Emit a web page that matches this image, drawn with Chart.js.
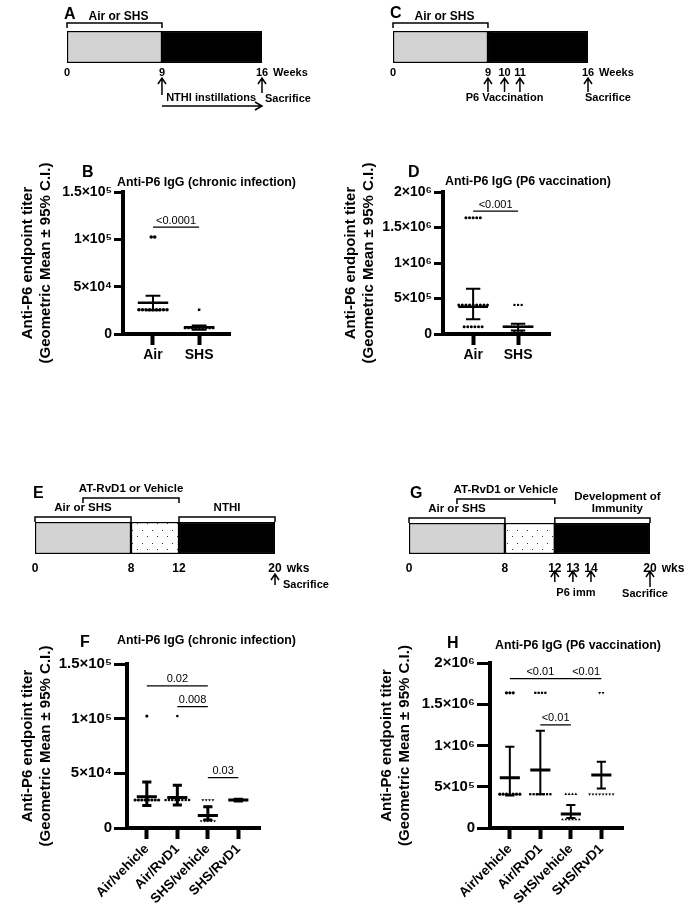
<!DOCTYPE html>
<html>
<head>
<meta charset="utf-8">
<script src="https://cdn.jsdelivr.net/npm/chart.js@4.4.0/dist/chart.umd.min.js"></script>
<style>
  body { margin: 0; background: #fff; }
  #page { position: relative; width: 689px; height: 907px; overflow: hidden; font-family: "Liberation Sans", Arial, sans-serif; }
  canvas { position: absolute; }
  .lbl { position: absolute; font-weight: bold; white-space: nowrap; line-height: 1; color: #000; }
  .letter { font-size: 16px; }
  .ttl { font-size: 12.4px; }
</style>
</head>
<body>
<div id="page">
  <canvas id="tA" width="345" height="140" style="left:0;top:0"></canvas>
  <canvas id="tC" width="344" height="140" style="left:345px;top:0"></canvas>
  <canvas id="cB" width="294" height="230" style="left:0;top:140px"></canvas>
  <canvas id="cD" width="274" height="230" style="left:340px;top:140px"></canvas>
  <canvas id="tE" width="345" height="150" style="left:0;top:450px"></canvas>
  <canvas id="tG" width="344" height="150" style="left:345px;top:450px"></canvas>
  <canvas id="cF" width="300" height="307" style="left:0;top:600px"></canvas>
  <canvas id="cH" width="300" height="307" style="left:370px;top:600px"></canvas>

  <div class="lbl letter" style="left:64px;top:6px">A</div>
  <div class="lbl letter" style="left:390px;top:5px">C</div>
  <div class="lbl letter" style="left:82px;top:164px">B</div>
  <div class="lbl letter" style="left:408px;top:164px">D</div>
  <div class="lbl letter" style="left:33px;top:485px">E</div>
  <div class="lbl letter" style="left:410px;top:485px">G</div>
  <div class="lbl letter" style="left:80px;top:634px">F</div>
  <div class="lbl letter" style="left:447px;top:635px">H</div>

  <div class="lbl ttl" style="left:117px;top:176px">Anti-P6 IgG (chronic infection)</div>
  <div class="lbl ttl" style="left:445px;top:175px">Anti-P6 IgG (P6 vaccination)</div>
  <div class="lbl ttl" style="left:117px;top:634px">Anti-P6 IgG (chronic infection)</div>
  <div class="lbl ttl" style="left:495px;top:639px">Anti-P6 IgG (P6 vaccination)</div>
</div>
<script>
const FONT = '"Liberation Sans", Arial, Helvetica, sans-serif';
Chart.defaults.font.family = FONT;
Chart.defaults.color = '#000';

// ---- timelines (weeks) ----
const weeksA = [0, 9, 16];
const phasesA = [[0, 9], [9, 16]];
const weeksC = [0, 9, 10, 11, 16];
const phasesC = [[0, 9], [9, 16]];
const weeksE = [0, 8, 12, 20];
const phasesE = [[0, 8], [8, 12], [12, 20]];
const weeksG = [0, 8, 12, 13, 14, 20];
const phasesG = [[0, 8], [8, 12], [12, 20]];

// ---- B: chronic infection, Air vs SHS ----
const groupsB = ['Air', 'SHS'];
const airB = [102400, 102400, 25600, 25600, 25600, 25600, 25600, 25600, 25600, 25600, 25600];
const shsB = [25600, 6400, 6400, 6400, 6400, 6400, 6400, 6400, 6400, 6400];
const meanB = [33000, 7000];
const ciLowB = [25000, 4500];
const ciHighB = [40500, 9000];
const yTicksB = [0, 50000, 100000, 150000];
const yLabelsB = ['0', '5×10⁴', '1×10⁵', '1.5×10⁵'];
const sigB = [[0, 1, '<0.0001']];

// ---- D: P6 vaccination, Air vs SHS ----
const groupsD = ['Air', 'SHS'];
const airD = [1638400, 1638400, 1638400, 1638400, 1638400,
  409600, 409600, 409600, 409600, 409600, 409600, 409600, 409600, 409600,
  102400, 102400, 102400, 102400, 102400, 102400];
const shsD = [409600, 409600, 409600,
  102400, 102400, 102400, 102400, 102400, 102400, 102400, 102400, 102400,
  25600, 25600, 25600];
const meanD = [384000, 102000];
const ciLowD = [207000, 48000];
const ciHighD = [638000, 145000];
const yTicksD = [0, 500000, 1000000, 1500000, 2000000];
const yLabelsD = ['0', '5×10⁵', '1×10⁶', '1.5×10⁶', '2×10⁶'];
const sigD = [[0, 1, '<0.001']];

// ---- F / H: four treatment groups ----
const groupsFH = ['Air/vehicle', 'Air/RvD1', 'SHS/vehicle', 'SHS/RvD1'];

const airVehF = [102400, 25600, 25600, 25600, 25600, 25600, 25600, 25600, 25600];
const airRvF = [102400, 25600, 25600, 25600, 25600, 25600, 25600, 25600, 25600];
const shsVehF = [25600, 25600, 25600, 25600, 6400, 6400, 6400, 6400, 6400];
const shsRvF = [25600, 25600, 25600, 25600, 25600, 25600];
const meanF = [28600, 28000, 11500, 25600];
const ciLowF = [20500, 21000, 7300, 24800];
const ciHighF = [42000, 39000, 19500, 26400];
const yTicksF = [0, 50000, 100000, 150000];
const yLabelsF = ['0', '5×10⁴', '1×10⁵', '1.5×10⁵'];
const sigF = [[0, 2, '0.02'], [1, 2, '0.008'], [2, 3, '0.03']];

const airVehH = [1638400, 1638400, 1638400, 409600, 409600, 409600, 409600, 409600, 409600, 409600];
const airRvH = [1638400, 1638400, 1638400, 1638400, 409600, 409600, 409600, 409600, 409600, 409600, 409600];
const shsVehH = [409600, 409600, 409600, 409600, 102400, 102400, 102400, 102400, 102400, 102400];
const shsRvH = [1638400, 1638400, 409600, 409600, 409600, 409600, 409600, 409600, 409600, 409600];
const meanH = [610000, 703000, 170000, 642000];
const ciLowH = [395000, 409000, 120000, 480000];
const ciHighH = [985000, 1180000, 279000, 803000];
const yTicksH = [0, 500000, 1000000, 1500000, 2000000];
const yLabelsH = ['0', '5×10⁵', '1×10⁶', '1.5×10⁶', '2×10⁶'];
const sigH = [[0, 2, '<0.01'], [2, 3, '<0.01'], [1, 2, '<0.01']];

// schematic time axis: piecewise linear, like the hand-drawn (not to scale) protocol bars
class SchematicScale extends Chart.LinearScale {
  getPixelForValue(value) {
    const b = this.options.breaks;
    if (!b) return super.getPixelForValue(value);
    let i = 1;
    while (i < b.length - 1 && value > b[i][0]) i++;
    const f = b[i - 1][1] + (value - b[i - 1][0]) / (b[i][0] - b[i - 1][0]) * (b[i][1] - b[i - 1][1]);
    return this.getPixelForDecimal(f);
  }
}
SchematicScale.id = 'schematic';
SchematicScale.defaults = Chart.LinearScale.defaults;
Chart.register(SchematicScale);

// dotted fill for the treatment window
function dots() {
  const c = document.createElement('canvas');
  c.width = 10; c.height = 13;
  const g = c.getContext('2d');
  g.fillStyle = '#fff'; g.fillRect(0, 0, 10, 13);
  g.fillStyle = '#333'; g.fillRect(2, 2, 1, 1); g.fillRect(7, 8, 1, 1);
  return g.createPattern(c, 'repeat');
}

const schedulePlugin = {
  id: 'schedule',
  afterDraw(chart, args, o) {
    const {ctx, chartArea: {top, bottom}, scales: {x}} = chart;
    const px = v => x.getPixelForValue(v);
    ctx.save();
    ctx.strokeStyle = '#000'; ctx.fillStyle = '#000'; ctx.lineWidth = 1.5;
    ctx.textAlign = 'center'; ctx.textBaseline = 'middle';
    ctx.font = 'bold ' + o.bracketFont + 'px ' + FONT;
    o.brackets.forEach(b => {
      const y = top - o.bracketGap - b.level * 19;
      const x1 = px(b.from), x2 = px(b.to);
      ctx.beginPath(); ctx.moveTo(x1, y + 5); ctx.lineTo(x1, y); ctx.lineTo(x2, y); ctx.lineTo(x2, y + 5); ctx.stroke();
      const lines = [].concat(b.text);
      lines.forEach((t, k) => ctx.fillText(t, (x1 + x2) / 2 + (b.dx || 0), y - o.labelGap - (lines.length - 1 - k) * 12));
    });
    o.arrows.forEach(a => {
      const ax = px(a.at), y1 = bottom + a.tip, y2 = bottom + a.tail;
      ctx.beginPath(); ctx.moveTo(ax, y2); ctx.lineTo(ax, y1);
      ctx.moveTo(ax - 4, y1 + 6); ctx.lineTo(ax, y1); ctx.lineTo(ax + 4, y1 + 6); ctx.stroke();
    });
    if (o.span) {
      const x1 = px(o.span.from), x2 = px(o.span.to), y = bottom + o.span.dy;
      ctx.beginPath(); ctx.moveTo(x1, y); ctx.lineTo(x2, y);
      ctx.moveTo(x2 - 7, y - 4); ctx.lineTo(x2, y); ctx.lineTo(x2 - 7, y + 4); ctx.stroke();
    }
    ctx.font = 'bold 11px ' + FONT;
    o.notes.forEach(n => {
      ctx.textAlign = n.align;
      ctx.fillText(n.text, px(n.at) + (n.dx || 0), bottom + n.dy);
    });
    // unit after the last week label
    ctx.font = 'bold ' + o.tickFont + 'px ' + FONT;
    const last = x.ticks[x.ticks.length - 1].value;
    ctx.textAlign = 'left';
    ctx.fillText(o.unit, px(last) + ctx.measureText(String(last)).width / 2 + 5, bottom + o.tickPad + o.tickFont * 0.6);
    ctx.restore();
  }
};

function timeline(id, weeks, phases, fills, layout, marks) {
  new Chart(document.getElementById(id), {
    type: 'bar',
    data: {
      labels: [''],
      datasets: phases.map((p, k) => ({
        data: [p], backgroundColor: fills[k], borderColor: '#000', borderWidth: 1.5,
        borderSkipped: false, barPercentage: 1, categoryPercentage: 1, grouped: false
      }))
    },
    options: {
      indexAxis: 'y', responsive: false, animation: false, events: [],
      layout: { padding: layout.pad },
      plugins: { legend: { display: false }, tooltip: { enabled: false }, schedule: marks },
      scales: {
        x: {
          type: layout.breaks ? 'schematic' : 'linear', breaks: layout.breaks,
          min: weeks[0], max: weeks[weeks.length - 1],
          afterBuildTicks: s => { s.ticks = weeks.map(v => ({ value: v })); },
          afterFit: s => { s.height = layout.axisH; },
          grid: { display: false, drawTicks: false }, border: { display: false },
          ticks: { font: { size: marks.tickFont, weight: 'bold' }, color: '#000', padding: marks.tickPad, autoSkip: false, maxRotation: 0 }
        },
        y: { display: false }
      }
    },
    plugins: [schedulePlugin]
  });
}

const GRAY = '#d3d3d3';
timeline('tA', weeksA, phasesA, [GRAY, '#000'],
  { pad: { left: 67, right: 83, top: 31, bottom: 0 }, axisH: 77, breaks: [[0, 0], [9, 0.487], [16, 1]] }, {
  tickFont: 11, tickPad: 3, unit: 'Weeks', bracketFont: 12, bracketGap: 8, labelGap: 6,
  brackets: [{ from: 0, to: 9, text: 'Air or SHS', level: 0, dx: 4 }],
  arrows: [{ at: 9, tip: 15, tail: 32 }, { at: 16, tip: 15, tail: 30 }],
  span: { from: 9, to: 16, dy: 43 },
  notes: [{ at: 16, text: 'NTHI instillations', dx: -6, dy: 35, align: 'right' },
          { at: 16, text: 'Sacrifice', dx: 3, dy: 36, align: 'left' }]
});
timeline('tC', weeksC, phasesC, [GRAY, '#000'],
  { pad: { left: 48, right: 101, top: 31, bottom: 0 }, axisH: 77, breaks: [[0, 0], [9, 0.487], [10, 0.572], [11, 0.651], [16, 1]] }, {
  tickFont: 11, tickPad: 3, unit: 'Weeks', bracketFont: 12, bracketGap: 8, labelGap: 6,
  brackets: [{ from: 0, to: 9, text: 'Air or SHS', level: 0, dx: 4 }],
  arrows: [{ at: 9, tip: 15, tail: 29 }, { at: 10, tip: 15, tail: 29 }, { at: 11, tip: 15, tail: 29 }, { at: 16, tip: 15, tail: 29 }],
  notes: [{ at: 10, text: 'P6 Vaccination', dy: 35, align: 'center' },
          { at: 16, text: 'Sacrifice', dx: -3, dy: 35, align: 'left' }]
});
const DOTS = dots();
timeline('tE', weeksE, phasesE, [GRAY, DOTS, '#000'],
  { pad: { left: 35, right: 70, top: 72, bottom: 0 }, axisH: 46 }, {
  tickFont: 12, tickPad: 7, unit: 'wks', bracketFont: 11.5, bracketGap: 5, labelGap: 9,
  brackets: [{ from: 0, to: 8, text: 'Air or SHS', level: 0 },
             { from: 4, to: 12, text: 'AT-RvD1 or Vehicle', level: 1 },
             { from: 12, to: 20, text: 'NTHI', level: 0 }],
  arrows: [{ at: 20, tip: 20, tail: 31 }],
  notes: [{ at: 20, text: 'Sacrifice', dx: 8, dy: 31, align: 'left' }]
});
timeline('tG', weeksG, phasesG, [GRAY, DOTS, '#000'],
  { pad: { left: 64, right: 39, top: 73, bottom: 0 }, axisH: 46,
    breaks: [[0, 0], [8, 0.398], [12, 0.605], [13, 0.68], [14, 0.755], [20, 1]] }, {
  tickFont: 12, tickPad: 7, unit: 'wks', bracketFont: 11.5, bracketGap: 5, labelGap: 9,
  brackets: [{ from: 0, to: 8, text: 'Air or SHS', level: 0 },
             { from: 4, to: 12, text: 'AT-RvD1 or Vehicle', level: 1 },
             { from: 12, to: 20, text: ['Development of', 'Immunity'], level: 0, dx: 15 }],
  arrows: [{ at: 12, tip: 17, tail: 28 }, { at: 13, tip: 17, tail: 28 }, { at: 14, tip: 17, tail: 28 }, { at: 20, tip: 17, tail: 33 }],
  notes: [{ at: 13, text: 'P6 imm', dx: 3, dy: 39, align: 'center' },
          { at: 20, text: 'Sacrifice', dx: -5, dy: 40, align: 'center' }]
});

// ---- dot plots ----
function spread(values, idx, step) {
  const count = {}, used = {};
  values.forEach(v => { count[v] = (count[v] || 0) + 1; });
  return values.map(v => {
    const k = used[v] = (used[v] || 0) + 1;
    return { x: idx + (k - 1 - (count[v] - 1) / 2) * step, y: v };
  });
}

const pTextPlugin = {
  id: 'pText',
  afterDatasetsDraw(chart, args, o) {
    const {ctx, scales: {x, y}} = chart;
    ctx.save();
    ctx.font = '11px ' + FONT; ctx.fillStyle = '#000';
    ctx.textAlign = 'center'; ctx.textBaseline = 'bottom';
    o.items.forEach((s, k) => {
      ctx.fillText(s[2], (x.getPixelForValue(s[0]) + x.getPixelForValue(s[1])) / 2, y.getPixelForValue(o.levels[k]) - 1);
    });
    ctx.restore();
  }
};

function dotChart(id, c) {
  const meanPts = [], ciPts = [], sigPts = [];
  c.mean.forEach((m, i) => meanPts.push({ x: i - 0.33, y: m }, { x: i + 0.33, y: m }, { x: i, y: null }));
  c.lo.forEach((lo, i) => {
    const hi = c.hi[i], w = c.capHw;
    ciPts.push({ x: i - w, y: hi }, { x: i + w, y: hi }, { x: i, y: null },
               { x: i - w, y: lo }, { x: i + w, y: lo }, { x: i, y: null },
               { x: i, y: lo }, { x: i, y: hi }, { x: i, y: null });
  });
  c.sig.forEach((s, k) => sigPts.push({ x: s[0], y: c.sigY[k] }, { x: s[1], y: c.sigY[k] }, { x: s[1], y: null }));
  const lineDs = (data, w) => ({ data, borderColor: '#000', borderWidth: w, pointRadius: 0, pointHoverRadius: 0,
    spanGaps: false, fill: false, clip: false, tension: 0 });
  const datasets = [lineDs(meanPts, c.meanW), lineDs(ciPts, c.ciW), lineDs(sigPts, 1.2)];
  c.values.forEach((vals, i) => datasets.push({
    data: spread(vals, i, c.step), showLine: false, pointStyle: c.marks[i][0], pointRotation: c.marks[i][1],
    pointRadius: c.r, pointHoverRadius: c.r, backgroundColor: '#000', borderColor: '#000', borderWidth: 0, clip: false
  }));
  const top = c.yTicks[c.yTicks.length - 1];
  new Chart(document.getElementById(id), {
    type: 'line',
    data: { datasets },
    options: {
      responsive: false, animation: false, events: [],
      layout: { padding: { top: c.padTop, right: c.padRight, left: 0, bottom: 0 } },
      plugins: { legend: { display: false }, tooltip: { enabled: false }, pText: { items: c.sig, levels: c.sigY } },
      scales: {
        x: {
          type: 'linear', min: c.xMin, max: c.xMax,
          afterBuildTicks: s => { s.ticks = c.groups.map((g, i) => ({ value: i })); },
          afterFit: s => { s.height = c.xH; },
          grid: { drawOnChartArea: false, tickLength: 11, tickWidth: 4, color: '#000' },
          border: { display: true, width: 4, color: '#000' },
          ticks: { callback: (v, i) => c.groups[i], font: { size: c.xFont, weight: 'bold' }, color: '#000',
            padding: 2, autoSkip: false, minRotation: c.rot, maxRotation: c.rot }
        },
        y: {
          min: 0, max: top,
          afterBuildTicks: s => { s.ticks = c.yTicks.map(v => ({ value: v })); },
          afterFit: s => { s.width = c.yW; },
          grid: { drawOnChartArea: false, tickLength: c.yTick, tickWidth: 3, color: '#000' },
          border: { display: true, width: 4, color: '#000' },
          ticks: { callback: (v, i) => c.yLabels[i], font: { size: c.yFont, weight: 'bold' }, color: '#000', padding: 2 },
          title: { display: true, text: ['Anti-P6 endpoint titer', '(Geometric Mean ± 95% C.I.)'],
            font: { size: 15, weight: 'bold' }, color: '#000', padding: { top: c.titlePad, bottom: 0 } }
        }
      }
    },
    plugins: [pTextPlugin]
  });
}

const CIRCLE = ['circle', 0], SQUARE = ['rect', 0], TRI = ['triangle', 0], TRIDOWN = ['triangle', 180];

dotChart('cB', {
  groups: groupsB, values: [airB, shsB], mean: meanB, lo: ciLowB, hi: ciHighB,
  yTicks: yTicksB, yLabels: yLabelsB, sig: sigB, sigY: [113000],
  marks: [CIRCLE, SQUARE], r: 1.8, step: 0.076, capHw: 0.16, meanW: 2.5, ciW: 2,
  xMin: -0.65, xMax: 1.67, padTop: 52, padRight: 64, yW: 123, xH: 36, titlePad: 19, xFont: 14, rot: 0,
  yFont: 14, yTick: 9
});
dotChart('cD', {
  groups: groupsD, values: [airD, shsD], mean: meanD, lo: ciLowD, hi: ciHighD,
  yTicks: yTicksD, yLabels: yLabelsD, sig: sigD, sigY: [1730000],
  marks: [CIRCLE, SQUARE], r: 1.5, step: 0.08, capHw: 0.16, meanW: 2.5, ciW: 2,
  xMin: -0.67, xMax: 1.71, padTop: 52, padRight: 64, yW: 103, xH: 36, titlePad: 2, xFont: 14, rot: 0,
  yFont: 14, yTick: 9
});
dotChart('cF', {
  groups: groupsFH, values: [airVehF, airRvF, shsVehF, shsRvF], mean: meanF, lo: ciLowF, hi: ciHighF,
  yTicks: yTicksF, yLabels: yLabelsF, sig: sigF, sigY: [130000, 111000, 46000],
  marks: [CIRCLE, SQUARE, TRIDOWN, TRIDOWN], r: 1.6, step: 0.11, capHw: 0.15, meanW: 3, ciW: 3,
  xMin: -0.65, xMax: 3.71, padTop: 64, padRight: 40, yW: 127, xH: 79, titlePad: 19, xFont: 13.5, rot: 45,
  yFont: 15, yTick: 13
});
dotChart('cH', {
  groups: groupsFH, values: [airVehH, airRvH, shsVehH, shsRvH], mean: meanH, lo: ciLowH, hi: ciHighH,
  yTicks: yTicksH, yLabels: yLabelsH, sig: sigH, sigY: [1810000, 1810000, 1250000],
  marks: [CIRCLE, SQUARE, TRI, TRIDOWN], r: 1.6, step: 0.11, capHw: 0.15, meanW: 3, ciW: 2,
  xMin: -0.65, xMax: 3.71, padTop: 63, padRight: 47, yW: 120, xH: 79, titlePad: 8, xFont: 13.5, rot: 45,
  yFont: 15, yTick: 13
});
</script>
</body>
</html>
